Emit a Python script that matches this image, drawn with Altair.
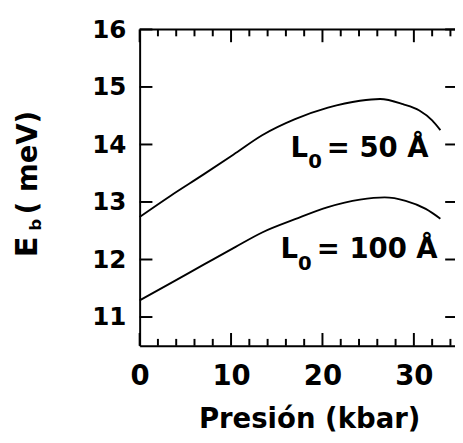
import altair as alt
import pandas as pd

# ---- data ----
x_50 = [0, 3.4, 7.0, 10.5, 13.4, 17.0, 20.6, 24.1, 26.3, 28.8, 30.6, 32.0, 32.9]
y_50 = [12.74, 13.11, 13.48, 13.85, 14.16, 14.44, 14.64, 14.76, 14.79, 14.70, 14.59, 14.42, 14.25]
x_100 = [0, 3.4, 7.0, 10.5, 13.4, 17.0, 20.6, 24.1, 26.8, 29.1, 31.3, 32.9]
y_100 = [11.29, 11.59, 11.91, 12.22, 12.47, 12.70, 12.91, 13.04, 13.08, 13.02, 12.88, 12.71]

label_x = [16.5, 15.4]
label_y = [13.79, 12.03]
label_main = ["L", "L"]
label_sub = ["0", "0"]
label_rest = ["= 50 Å", "= 100 Å"]

x_major = [0, 10, 20, 30]
x_minor = [2, 4, 6, 8, 12, 14, 16, 18, 22, 24, 26, 28, 32, 34]
y_major = [11, 12, 13, 14, 15, 16]
x_domain = [0, 34.5]
y_domain = [10.5, 16]

x_title = "Presión (kbar)"
y_title_main = "E"
y_title_sub = "b"
y_title_rest = "( meV)"

FONT = "DejaVu Sans"
W, H = 321, 322

curves = pd.DataFrame({
    "p": x_50 + x_100,
    "e": y_50 + y_100,
    "s": ["50"] * len(x_50) + ["100"] * len(x_100),
})
labels = pd.DataFrame({"x": label_x, "y": label_y, "m": label_main,
                       "sub": label_sub, "rest": label_rest})
xmaj = pd.DataFrame({"v": x_major})
xmin = pd.DataFrame({"v": x_minor})
ymaj = pd.DataFrame({"v": y_major})

xs = alt.Scale(domain=x_domain, nice=False, zero=False)
ys = alt.Scale(domain=y_domain, nice=False, zero=False)

axis_style = dict(grid=False, ticks=False, domainColor="black", domainWidth=2,
                  labelColor="black", labelFont=FONT, labelFontWeight="bold",
                  labelFlush=False, title=None)

lines = alt.Chart(curves).mark_line(color="black", strokeWidth=1.9, interpolate="monotone").encode(
    x=alt.X("p:Q", scale=xs, axis=alt.Axis(orient="bottom", values=x_major, format="d",
                                           labelFontSize=28, labelBaseline="alphabetic",
                                           labelPadding=39, **axis_style)),
    y=alt.Y("e:Q", scale=ys, axis=alt.Axis(orient="left", values=y_major, format="d",
                                           labelFontSize=25, labelBaseline="middle",
                                           labelPadding=14, **axis_style)),
    detail="s:N",
)

# inward tick marks (positions come from the scales)
def xticks(df, y0, y1):
    return alt.Chart(df).mark_rule(color="black", strokeWidth=2).encode(
        x=alt.X("v:Q", scale=xs, axis=None), y=alt.value(y0), y2=alt.value(y1))

def yticks(df, x0, x1):
    return alt.Chart(df).mark_rule(color="black", strokeWidth=2).encode(
        y=alt.Y("v:Q", scale=ys, axis=None), x=alt.value(x0), x2=alt.value(x1))

ticks = [
    xticks(xmaj, H, H - 13), xticks(xmaj, 0, 13),
    xticks(xmin, H, H - 7), xticks(xmin, 0, 7),
    yticks(ymaj, 0, 13), yticks(ymaj, W, W - 10),
]

top_spine = alt.Chart(pd.DataFrame({"k": [0]})).mark_rule(color="black", strokeWidth=2).encode(
    x=alt.value(0), x2=alt.value(W), y=alt.value(0))

txt_main = alt.Chart(labels).mark_text(font=FONT, fontWeight="bold", fontSize=28, align="left",
                                       baseline="alphabetic", color="black").encode(
    x=alt.X("x:Q", scale=xs, axis=None), y=alt.Y("y:Q", scale=ys, axis=None), text="m:N")

txt_sub = alt.Chart(labels).mark_text(font=FONT, fontWeight="bold", fontSize=20, align="left",
                                      baseline="alphabetic", dx=18, dy=12, color="black").encode(
    x=alt.X("x:Q", scale=xs, axis=None), y=alt.Y("y:Q", scale=ys, axis=None), text="sub:N")

txt_rest = alt.Chart(labels).mark_text(font=FONT, fontWeight="bold", fontSize=28, align="left",
                                       baseline="alphabetic", dx=37, color="black").encode(
    x=alt.X("x:Q", scale=xs, axis=None), y=alt.Y("y:Q", scale=ys, axis=None), text="rest:N")

xt = alt.Chart(pd.DataFrame({"t": [x_title]})).mark_text(
    font=FONT, fontWeight="bold", fontSize=28, align="center", baseline="alphabetic", color="black"
).encode(x=alt.value(173), y=alt.value(406), text="t:N")

yt1 = alt.Chart(pd.DataFrame({"t": [y_title_main]})).mark_text(
    font=FONT, fontWeight="bold", fontSize=31, align="left", baseline="alphabetic", angle=270, color="black"
).encode(x=alt.value(-104), y=alt.value(232), text="t:N")

yt2 = alt.Chart(pd.DataFrame({"t": [y_title_sub]})).mark_text(
    font=FONT, fontWeight="bold", fontSize=17, align="left", baseline="alphabetic", angle=270, color="black"
).encode(x=alt.value(-100), y=alt.value(205), text="t:N")

yt3 = alt.Chart(pd.DataFrame({"t": [y_title_rest]})).mark_text(
    font=FONT, fontWeight="bold", fontSize=28, align="left", baseline="alphabetic", angle=270, color="black"
).encode(x=alt.value(-104), y=alt.value(188), text="t:N")

chart = alt.layer(lines, *ticks, top_spine, txt_main, txt_sub, txt_rest, xt, yt1, yt2, yt3).resolve_axis(
    x="independent", y="independent"
).properties(
    width=W, height=H,
    autosize=alt.AutoSizeParams(type="none"),
    padding={"left": 134, "top": 18, "right": 0, "bottom": 87},
    background="white",
).configure_view(stroke=None)

chart.save("out.html", embed_options={"renderer": "svg", "actions": False})
